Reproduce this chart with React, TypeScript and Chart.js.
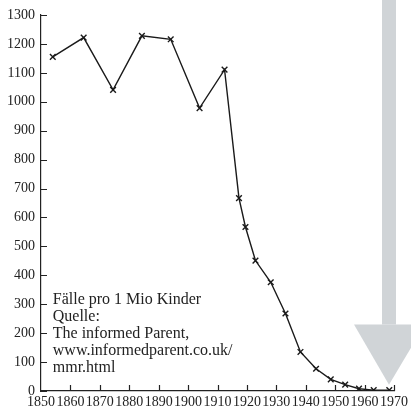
import { useEffect, useRef } from 'react';
import { Chart, registerables } from 'chart.js';

Chart.register(...registerables);

const years = [1854, 1864.5, 1874.5, 1884.3, 1894.1, 1903.9, 1912.4, 1917.3, 1919.5, 1922.9, 1928.1, 1933.1, 1938.2, 1943.5, 1948.5, 1953.4, 1958.1, 1963.1, 1968.4];
const cases = [1155, 1222, 1041, 1228, 1216, 978, 1111, 667, 567, 451, 376, 268, 135, 77, 40, 22, 8, 3, 3];
const xTickValues = [1850, 1860, 1870, 1880, 1890, 1900, 1910, 1920, 1930, 1940, 1950, 1960, 1970];
const yTickValues = [0, 100, 200, 300, 400, 500, 600, 700, 800, 900, 1000, 1100, 1200, 1300];
const noteLines = ['Fälle pro 1 Mio Kinder', 'Quelle:', 'The informed Parent,', 'www.informedparent.co.uk/', 'mmr.html'];

const FONT = "'Liberation Serif', 'Times New Roman', serif";

const arrowPlugin = {
  id: 'arrowPlugin',
  beforeDraw(chart: any) {
    const { ctx, scales } = chart;
    const x = scales.x;
    const y = scales.y;
    const cx = x.getPixelForValue(1968.3);
    const headTop = y.getPixelForValue(230);
    const tip = y.getPixelForValue(22);
    ctx.save();
    ctx.fillStyle = '#d0d4d7';
    ctx.fillRect(cx - 7, 0, 14, headTop);
    ctx.beginPath();
    ctx.moveTo(cx - 35, headTop);
    ctx.lineTo(cx + 36, headTop);
    ctx.lineTo(cx, tip);
    ctx.closePath();
    ctx.fill();
    ctx.restore();
  },
};

const ticksPlugin = {
  id: 'ticksPlugin',
  afterDraw(chart: any) {
    const { ctx, scales, chartArea } = chart;
    ctx.save();
    ctx.strokeStyle = '#222';
    ctx.lineWidth = 1.2;
    ctx.beginPath();
    yTickValues.forEach((v) => {
      const py = Math.round(scales.y.getPixelForValue(v)) + 0.5;
      ctx.moveTo(chartArea.left, py);
      ctx.lineTo(chartArea.left + 6, py);
    });
    xTickValues.slice(1).forEach((v) => {
      const px = Math.round(scales.x.getPixelForValue(v)) + 0.5;
      ctx.moveTo(px, chartArea.bottom);
      ctx.lineTo(px, chartArea.bottom - 6);
    });
    ctx.stroke();
    ctx.fillStyle = '#222';
    ctx.font = `16px ${FONT}`;
    ctx.textAlign = 'left';
    ctx.textBaseline = 'alphabetic';
    const startX = scales.x.getPixelForValue(1854) ;
    noteLines.forEach((line, i) => {
      ctx.fillText(line, startX, 303.5 + i * 17);
    });
    ctx.restore();
  },
};

export default function App() {
  const ref = useRef<HTMLCanvasElement | null>(null);
  useEffect(() => {
    if (!ref.current) return;
    const chart = new Chart(ref.current, {
      type: 'line',
      data: {
        datasets: [
          {
            data: years.map((yr, i) => ({ x: yr, y: cases[i] })),
            borderColor: '#1a1a1a',
            borderWidth: 1.4,
            pointStyle: 'crossRot',
            pointRadius: 4,
            pointBorderWidth: 1.4,
            pointBorderColor: '#1a1a1a',
            fill: false,
            tension: 0,
          },
        ],
      },
      options: {
        responsive: false,
        animation: false,
        layout: { padding: { top: 15, right: 14, left: 0, bottom: 0 } },
        plugins: { legend: { display: false }, tooltip: { enabled: false } },
        scales: {
          x: {
            type: 'linear',
            min: 1850,
            max: 1970,
            afterBuildTicks: (scale: any) => {
              scale.ticks = xTickValues.map((v) => ({ value: v }));
            },
            afterFit: (scale: any) => {
              scale.height = 23;
            },
            grid: { drawOnChartArea: false, drawTicks: false },
            border: { display: true, color: '#222', width: 1.2 },
            ticks: {
              autoSkip: false,
              maxRotation: 0,
              padding: 3,
              color: '#222',
              font: { family: FONT, size: 14 },
              callback: (v: any) => String(v),
            },
          },
          y: {
            type: 'linear',
            min: 0,
            max: 1300,
            afterBuildTicks: (scale: any) => {
              scale.ticks = yTickValues.map((v) => ({ value: v }));
            },
            afterFit: (scale: any) => {
              scale.width = 41;
            },
            grid: { drawOnChartArea: false, drawTicks: false },
            border: { display: true, color: '#222', width: 1.2 },
            ticks: {
              autoSkip: false,
              padding: 6,
              color: '#222',
              font: { family: FONT, size: 14 },
              callback: (v: any) => String(v),
            },
          },
        },
      },
      plugins: [arrowPlugin, ticksPlugin],
    });
    return () => chart.destroy();
  }, []);
  return (
    <div style={{ position: 'absolute', left: 0, top: 0, width: 411, height: 414, background: '#fff' }}>
      <canvas ref={ref} width={411} height={414} />
    </div>
  );
}
